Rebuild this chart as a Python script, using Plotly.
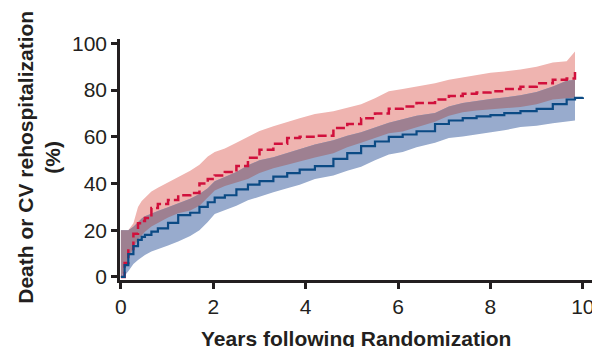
import plotly.graph_objects as go

# Time grid (years following randomization)
t = [0, 0.08, 0.16, 0.27, 0.37, 0.45, 0.52, 0.66, 0.8, 1.02, 1.24, 1.5, 1.7, 1.88,
     2.03, 2.25, 2.5, 2.75, 3.0, 3.3, 3.6, 3.87, 4.2, 4.6, 4.9, 5.2, 5.5, 5.8, 6.1,
     6.4, 6.8, 7.1, 7.4, 7.7, 8.0, 8.3, 8.65, 9.0, 9.35, 9.65, 9.83]

# Red group (dashed) estimate and confidence band
red_est = [0, 6, 12, 18.5, 23, 24, 25.2, 29.5, 31.2, 33, 35, 36, 40, 42,
           43.5, 45, 47.5, 51, 54.5, 57, 59.5, 60, 60.5, 63.8, 65.5, 68, 70, 72, 73,
           74.5, 76, 77.5, 78.5, 79, 79.5, 80.5, 81.5, 83, 84.5, 85, 88]
red_upper = [20, 20, 20, 23, 30, 32.5, 34, 36.6, 38.2, 40.5, 42.5, 45.5, 48, 51.6,
             53.5, 55, 57.5, 60, 62.5, 64.5, 66.5, 68, 69.8, 71, 72.5, 74, 76.5, 79.5, 80.5,
             81.5, 83, 84.5, 85.5, 86.5, 87.4, 88, 88.8, 90, 91.8, 92.4, 96.6]
red_lower = [0, 3, 7.5, 12.5, 16, 18, 19.4, 21.6, 23, 25.5, 27.3, 28.5, 30.5, 34,
             37, 39, 40.5, 42, 44.5, 46.5, 48, 49.5, 51.2, 53, 55.5, 57.5, 59.5, 61.5, 62.3,
             64, 66.5, 69, 70.5, 71.3, 71.8, 72.4, 72.8, 74, 76, 76.5, 76.8]

# Blue group (solid) estimate and confidence band
blue_t = t + [10.0]
blue_est = [0, 5.1, 9.8, 13.2, 15.9, 17.2, 18, 19.4, 20.8, 23.2, 26.5, 27.5, 30, 32,
            34, 35, 37.5, 39.5, 41, 43, 44.5, 46, 47.5, 50.6, 53, 56, 58, 60, 61,
            62.4, 65.5, 67, 68, 68.8, 69.3, 70.2, 71, 72, 74, 76, 76.7, 77]
blue_upper = [20, 20, 20, 21.5, 23.7, 25, 26, 27.3, 28.3, 29.8, 31.6, 33.5, 35.5, 38,
              41, 42.8, 45, 47.8, 50, 51.3, 53, 54.5, 56.7, 58.5, 60.5, 62, 64, 66, 67.5,
              69, 70.2, 73, 74.5, 75.5, 76.2, 76.8, 77.8, 79.2, 81.6, 84, 84.5]
blue_lower = [0, 0.5, 2.5, 5.5, 7.3, 8.5, 9.4, 10.9, 11.8, 13.5, 15.2, 17.5, 20, 23.5,
              27, 28.5, 30.5, 32.8, 34.5, 36.3, 38, 39.5, 42, 43.5, 45.5, 47.2, 50, 52.4, 53.5,
              55.5, 57.5, 59.5, 60.2, 61, 61.8, 62.8, 64.2, 64.8, 65.8, 66.5, 67]

x_ticks = [0, 2, 4, 6, 8, 10]
y_ticks = [0, 20, 40, 60, 80, 100]

RED_BAND = "#efb4b0"
BLUE_BAND = "#98abcd"
OVERLAP = "#9e8091"
RED_LINE = "#d1103c"
BLUE_LINE = "#0b4a84"
TXT = "#231f20"
FONT = "Liberation Sans, Arial"

fig = go.Figure()


def band(x, lo, hi, color):
    fig.add_trace(go.Scatter(x=x, y=lo, mode="lines", line=dict(width=0),
                             hoverinfo="skip", showlegend=False))
    fig.add_trace(go.Scatter(x=x, y=hi, mode="lines", line=dict(width=0),
                             fill="tonexty", fillcolor=color, hoverinfo="skip",
                             showlegend=False))


band(t, red_lower, red_upper, RED_BAND)
band(t, blue_lower, blue_upper, BLUE_BAND)
band(t, red_lower, blue_upper, OVERLAP)

fig.add_trace(go.Scatter(x=t, y=red_est, mode="lines",
                         line=dict(color=RED_LINE, width=2.5, dash="9px,4px", shape="hv"),
                         showlegend=False))
fig.add_trace(go.Scatter(x=blue_t, y=blue_est, mode="lines",
                         line=dict(color=BLUE_LINE, width=2.2, shape="hv"),
                         showlegend=False))

axis_common = dict(showline=True, linecolor=TXT, linewidth=2.5, ticks="outside",
                   ticklen=6, tickwidth=2.5, tickcolor=TXT, showgrid=False,
                   zeroline=False, automargin=False,
                   tickfont=dict(family=FONT, size=21, color=TXT))

fig.update_xaxes(range=[-0.02, 10.22], tickvals=x_ticks, **axis_common)
fig.update_yaxes(range=[-1.3, 101.9], tickvals=y_ticks, **axis_common)

fig.add_annotation(text="<b>Years following Randomization</b>", xref="paper", yref="paper",
                   x=0.499, y=-0.185, xanchor="center", yanchor="top", showarrow=False,
                   font=dict(family=FONT, size=21, color=TXT))
fig.add_annotation(text="<b>Death or CV rehospitalization<br>(%)</b>", xref="paper", yref="paper",
                   x=-0.173, y=0.508, xanchor="center", yanchor="middle", textangle=-90,
                   showarrow=False,
                   font=dict(family=FONT, size=21, color=TXT))

# the page adds an 8px body margin, so the margins are reduced by 8px
fig.update_layout(width=600, height=347, margin=dict(l=112, r=15, t=31, b=75),
                  paper_bgcolor="white", plot_bgcolor="white")

fig.write_html("out.html")
